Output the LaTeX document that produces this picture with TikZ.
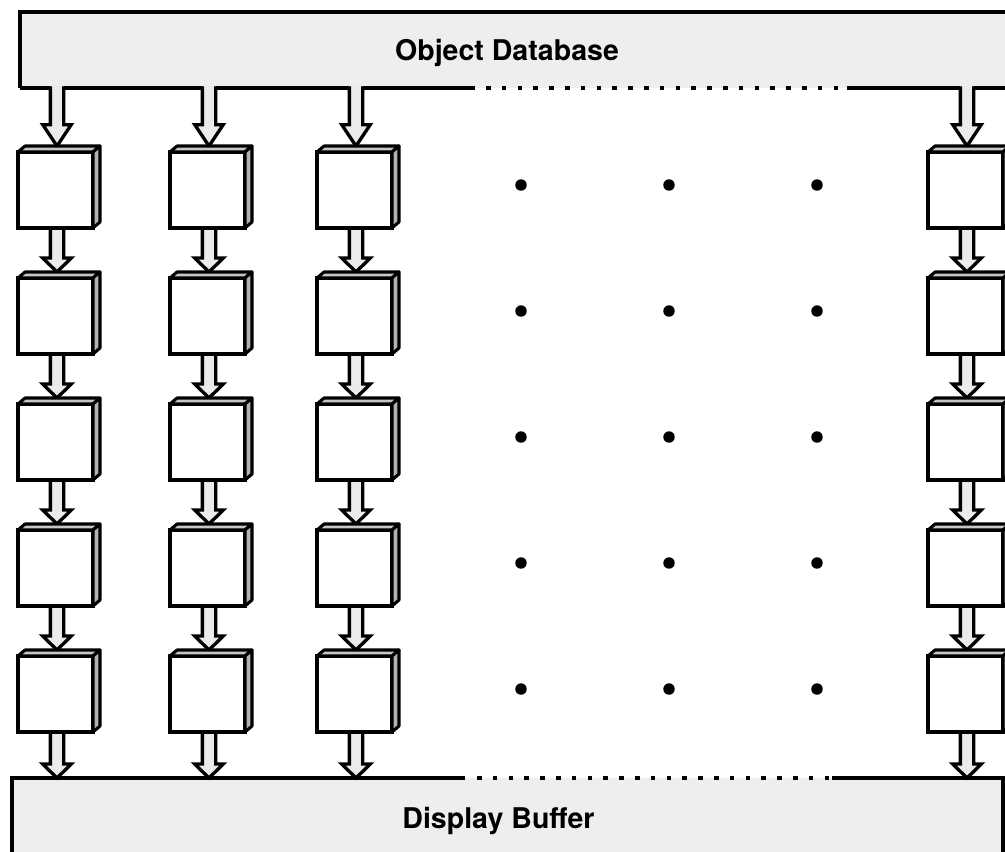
\documentclass[tikz,border=0pt]{standalone}
\usepackage{fontspec}
\setmainfont{TeX Gyre Heros}
\usetikzlibrary{calc}
\pgfdeclarelayer{paper}
\pgfdeclarelayer{back}
\pgfdeclarelayer{mid}
\pgfsetlayers{paper,back,mid,main}
\tikzset{
  outline/.style={draw=black, line width=2.5pt, line join=miter},
  dotline/.style={draw=black, line width=2.5pt, dash pattern=on 3.5pt off 8.35pt},
  stage/.style={rectangle, draw=black, fill=white, line width=2.5pt,
    minimum width=56.25pt, minimum height=57pt, inner sep=0pt, outer sep=0pt},
  topface/.style={fill=gray!45, draw=black, line width=2.3pt, line join=round},
  sideface/.style={fill=gray!60, draw=black, line width=2.3pt, line join=round},
  panel/.style={rectangle, fill=gray!13, inner sep=0pt, outer sep=0pt},
  paneltext/.style={font=\bfseries\fontsize{21.4}{25}\selectfont, inner sep=0pt},
  arrowfill/.style={fill=gray!16},
  seqdot/.style={fill=black}
}
% #1 node giving x, #2 point giving start y, #3 point giving tip y,
% #4 head height, #5 tip offset (upwards)
\newcommand\fatarrow[5]{%
  \fill[arrowfill] let \p1=#1, \p2=#2, \p3=#3 in
    (\x1-3.875pt,\y2+1.5pt) -- (\x1-3.875pt,\y3+#5+#4) -- (\x1-9.575pt,\y3+#5+#4)
    -- (\x1+1.125pt,\y3+#5)
    -- (\x1+11.825pt,\y3+#5+#4) -- (\x1+6.125pt,\y3+#5+#4) -- (\x1+6.125pt,\y2+1.5pt) -- cycle;
  \draw[outline] let \p1=#1, \p2=#2, \p3=#3 in
    (\x1-3.875pt,\y2+1.25pt) -- (\x1-3.875pt,\y3+#5+#4) -- (\x1-9.575pt,\y3+#5+#4)
    -- (\x1+1.125pt,\y3+#5)
    -- (\x1+11.825pt,\y3+#5+#4) -- (\x1+6.125pt,\y3+#5+#4) -- (\x1+6.125pt,\y2+1.25pt);
}
\begin{document}
\begin{tikzpicture}[x=0.75pt,y=-0.75pt]
\clip (0,0) rectangle (1005,851);
\begin{pgfonlayer}{paper}
  \fill[white] (0,0) rectangle (1005,851);
\end{pgfonlayer}

% processing stages (front faces, top faces, side faces)
\foreach \cc/\L in {1/18,2/170,3/317,4/928}{
  \foreach \rr/\T in {1/152,2/278,3/404,4/530,5/656}{
    \node[stage] (b\rr\cc) at (\L+37.5,\T+38) {};
    \draw[topface] (b\rr\cc.north west) -- ++(7,-6) -- ++(75,0) -- (b\rr\cc.north east) -- cycle;
    \draw[sideface] (b\rr\cc.north east) -- ++(7,-6) -- ++(0,76) -- (b\rr\cc.south east) -- cycle;
  }
}

% object database and display buffer panels
\begin{pgfonlayer}{back}
  \node[panel, minimum width=742.5pt, minimum height=57pt] (db) at (515,50) {};
  \node[paneltext, anchor=base] (dbtext) at (507,60) {Object Database};
  \draw[outline] (db.south west) -- (db.north west) -- (db.north east);
  \draw[outline] (db.south west) -- (475,88);
  \draw[dotline] (486,88) -- (840,88);
  \draw[outline] (847,88) -- (db.south east);

  \node[panel, minimum width=743.25pt, minimum height=69pt] (buf) at (507.5,824) {};
  \node[paneltext, anchor=base] (buftext) at (498.5,828) {Display Buffer};
  \draw[outline] (buf.south west) -- (buf.north west) -- (465,778);
  \draw[dotline] (477,778) -- (830,778);
  \draw[outline] (832,778) -- (buf.north east) -- (buf.south east);
\end{pgfonlayer}

% fat arrows
\begin{pgfonlayer}{mid}
\foreach \cc in {1,2,3,4}{
  \fatarrow{(b1\cc.south)}{(db.south)}{(b1\cc.north)}{16pt}{4.5pt}
  \foreach \ra/\rb in {1/2,2/3,3/4,4/5}{
    \fatarrow{(b\ra\cc.south)}{(b\ra\cc.south)}{(b\rb\cc.north)}{10.5pt}{4.5pt}
  }
  \fatarrow{(b5\cc.south)}{(b5\cc.south)}{(buf.north)}{10.5pt}{0pt}
}
\end{pgfonlayer}

% ellipsis dots
\foreach \dx in {521,669,817}{
  \foreach \dy in {185,311,437,563,689}{
    \fill[seqdot] (\dx,\dy) circle[radius=4.3pt];
  }
}
\end{tikzpicture}
\end{document}
